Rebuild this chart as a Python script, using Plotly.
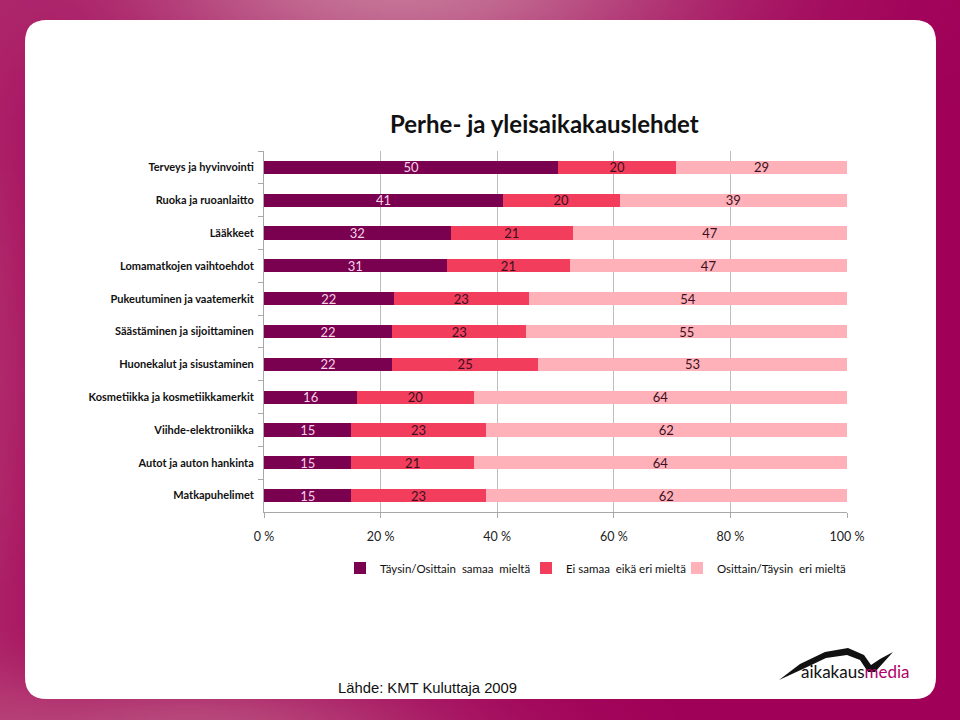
import base64, struct, zlib
import numpy as np
import plotly.graph_objects as go

categories = [
    "Terveys ja hyvinvointi",
    "Ruoka ja ruoanlaitto",
    "Lääkkeet",
    "Lomamatkojen vaihtoehdot",
    "Pukeutuminen ja vaatemerkit",
    "Säästäminen ja sijoittaminen",
    "Huonekalut ja sisustaminen",
    "Kosmetiikka ja kosmetiikkamerkit",
    "Viihde-elektroniikka",
    "Autot ja auton hankinta",
    "Matkapuhelimet",
]
agree = [50, 41, 32, 31, 22, 22, 22, 16, 15, 15, 15]
neutral = [20, 20, 21, 21, 23, 23, 25, 20, 23, 21, 23]
disagree = [29, 39, 47, 47, 54, 55, 53, 64, 62, 64, 62]
series_names = ["Täysin/Osittain  samaa  mieltä", "Ei samaa  eikä eri mieltä", "Osittain/Täysin  eri mieltä"]
series_colors = ["#7A0050", "#F23E5C", "#FFB1BA"]
text_colors = ["#F6D3E6", "#3A1020", "#3A1020"]
x_ticks = [0, 20, 40, 60, 80, 100]
x_ticklabels = ["0 %", "20 %", "40 %", "60 %", "80 %", "100 %"]

W, H = 960, 720
L, R, T, B = 264, 113, 151, 208
PW, PH = W - L - R, H - T - B


def px(x):
    return (x - L) / PW


def py(y):
    return (H - B - y) / PH


# ---- background gradient image (PNG built in memory) ----
gw, gh = 240, 180
xs = np.linspace(0, W, gw)[None, :]
ys = np.linspace(0, H, gh)[:, None]
base = np.array([160, 0, 88], dtype=float)
img = np.zeros((gh, gw, 3)) + base
blobs = [
    ((400, -20), (300, 110), (198, 118, 152)),
    ((190, 740), (260, 70), (186, 78, 126)),
    ((-40, 380), (90, 420), (180, 50, 112)),
]
for (cx, cy), (rx, ry), col in blobs:
    w = np.exp(-(((xs - cx) / rx) ** 2 + ((ys - cy) / ry) ** 2))[..., None]
    img = img + w * (np.array(col, dtype=float) - base)
img = np.clip(img, 0, 255).astype(np.uint8)
raw = b"".join(b"\x00" + img[r].tobytes() for r in range(gh))


def chunk(tag, data):
    c = struct.pack(">I", len(data)) + tag + data
    return c + struct.pack(">I", zlib.crc32(tag + data) & 0xFFFFFFFF)


png = b"\x89PNG\r\n\x1a\n" + chunk(b"IHDR", struct.pack(">IIBBBBB", gw, gh, 8, 2, 0, 0, 0)) \
    + chunk(b"IDAT", zlib.compress(raw, 9)) + chunk(b"IEND", b"")
bg_uri = "data:image/png;base64," + base64.b64encode(png).decode()

legend_ids = ["legend", "legend2", "legend3"]
legend_sym_x = [360, 546, 697]

fig = go.Figure()
for vals, name, col, tcol, lid in zip([agree, neutral, disagree], series_names, series_colors,
                                      text_colors, legend_ids):
    fig.add_trace(go.Bar(
        y=categories, x=vals, name=name, orientation="h", legend=lid,
        marker=dict(color=col, line=dict(width=0)),
        text=[str(v) for v in vals], textposition="inside", insidetextanchor="middle",
        textangle=0,
        textfont=dict(family="Lato, Carlito, sans-serif", size=13, color=tcol),
        constraintext="none", cliponaxis=False,
    ))

# rounded white panel
x0, x1, y0, y1, r = 25, 936, 20, 699, 22
pts = (f"M {px(x0 + r)},{py(y0)} L {px(x1 - r)},{py(y0)} Q {px(x1)},{py(y0)} {px(x1)},{py(y0 + r)} "
       f"L {px(x1)},{py(y1 - r)} Q {px(x1)},{py(y1)} {px(x1 - r)},{py(y1)} "
       f"L {px(x0 + r)},{py(y1)} Q {px(x0)},{py(y1)} {px(x0)},{py(y1 - r)} "
       f"L {px(x0)},{py(y0 + r)} Q {px(x0)},{py(y0)} {px(x0 + r)},{py(y0)} Z")
shapes = [dict(type="path", xref="paper", yref="paper", path=pts, fillcolor="white",
               line=dict(width=0), layer="below")]

# logo swoosh
sw = [(779, 680), (800, 664), (825, 652), (848, 648), (864, 655), (871, 665),
      (880, 659), (893, 652), (884, 662), (875, 672), (868, 672), (860, 660),
      (847, 655), (826, 658), (805, 668)]
sp = "M " + " L ".join(f"{px(a)},{py(b)}" for a, b in sw) + " Z"
shapes.append(dict(type="path", xref="paper", yref="paper", path=sp, fillcolor="#111111",
                   line=dict(width=0)))

annotations = [
    dict(text="<b>Perhe- ja yleisaikakauslehdet</b>", x=px(544), y=py(123), xref="paper", yref="paper",
         showarrow=False, font=dict(family="Lato, sans-serif", size=24, color="#111111"),
         xanchor="center", yanchor="middle"),
    dict(text="Lähde: KMT Kuluttaja 2009", x=px(336), y=py(688), xref="paper", yref="paper",
         showarrow=False, font=dict(family="Liberation Sans, Arial, sans-serif", size=14.8, color="#111111"),
         xanchor="left", yanchor="middle"),
    dict(text="<span style='color:#111111'>aikakaus</span><span style='color:#B0006A'>media</span>",
         x=px(855), y=py(671), xref="paper", yref="paper", showarrow=False,
         font=dict(family="Lato, sans-serif", size=17), xanchor="center", yanchor="middle"),
]

legend_common = dict(orientation="h", yanchor="middle", y=py(568), xanchor="left",
                     font=dict(family="Lato, Carlito, sans-serif", size=11.5, color="#111111"),
                     bgcolor="rgba(0,0,0,0)", itemwidth=30, borderwidth=0)

fig.update_layout(
    width=W, height=H,
    margin=dict(l=L, r=R, t=T, b=B, autoexpand=False),
    barmode="stack", barnorm="percent", bargap=0.6,
    paper_bgcolor="#A0005A", plot_bgcolor="rgba(0,0,0,0)",
    font=dict(family="Lato, sans-serif", color="#222222"),
    showlegend=True,
    legend=dict(x=px(legend_sym_x[0] - 20), **legend_common),
    legend2=dict(x=px(legend_sym_x[1] - 20), **legend_common),
    legend3=dict(x=px(legend_sym_x[2] - 20), **legend_common),
    xaxis=dict(range=[0, 100], tickvals=x_ticks, ticktext=x_ticklabels,
               showgrid=True, gridcolor="#BDBDBD", gridwidth=1, zeroline=False,
               showline=True, linecolor="#A8A8A8", linewidth=1,
               ticks="outside", ticklen=5, tickcolor="#A8A8A8",
               tickfont=dict(size=12.5, color="#222222"), ticklabelstandoff=8, fixedrange=True),
    yaxis=dict(categoryorder="array", categoryarray=categories, autorange="reversed",
               showline=True, linecolor="#A8A8A8", linewidth=1,
               ticks="outside", ticklen=5, tickcolor="#A8A8A8", tickson="boundaries",
               showgrid=False, tickfont=dict(size=11, color="#111111", weight="bold"),
               ticklabelstandoff=7, fixedrange=True),
    images=[dict(source=bg_uri, xref="paper", yref="paper", x=px(0), y=py(0),
                 sizex=W / PW, sizey=H / PH, sizing="stretch", layer="below",
                 xanchor="left", yanchor="top")],
    shapes=shapes, annotations=annotations,
)

fig.write_html("out.html", config={"displayModeBar": False},
               post_script="document.body.style.margin='0';document.body.style.overflow='hidden';")
